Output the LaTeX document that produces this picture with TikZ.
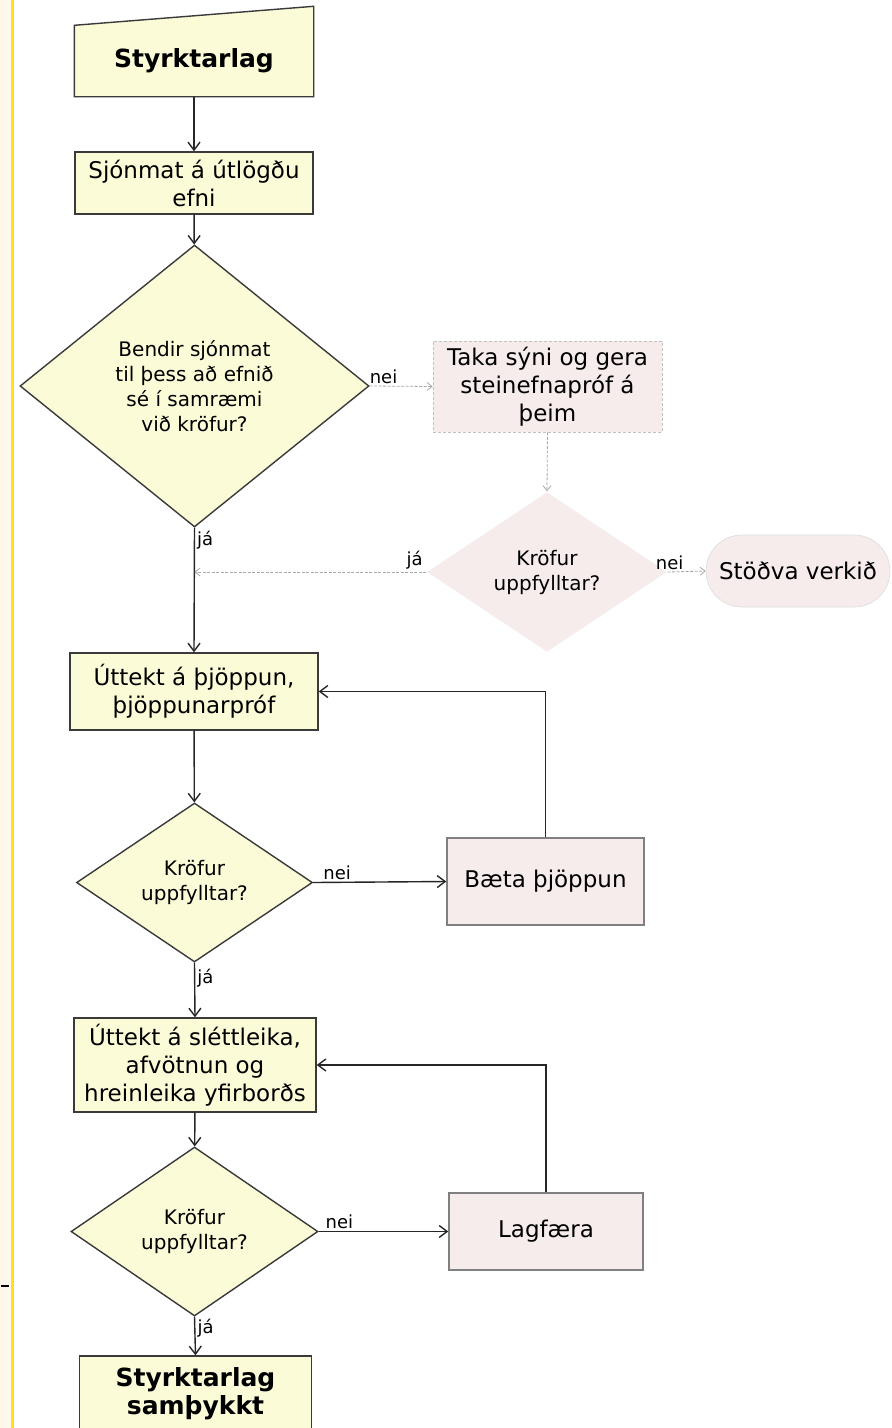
\documentclass[tikz,border=0pt]{standalone}
\usepackage{fontspec}
\setmainfont{DejaVu Sans}
\usetikzlibrary{shapes.geometric,arrows.meta,backgrounds}
\definecolor{gulur}{HTML}{FBFBD8}
\definecolor{bleikur}{HTML}{F6ECEC}
\definecolor{rammi}{HTML}{3A3A3A}
\definecolor{grarammi}{HTML}{808080}
\definecolor{ljosgrar}{HTML}{A8A8A8}
\definecolor{jadar}{HTML}{FDF8EA}
\definecolor{gullina}{HTML}{FFE11A}
\newcommand\nodefnt{\fontsize{23}{28}\selectfont}
\newcommand\decfnt{\fontsize{20}{25}\selectfont}
\newcommand\labfnt{\fontsize{18}{22}\selectfont}
\newcommand\headfnt{\fontsize{25}{28}\selectfont\bfseries}

\tikzset{
  ferli/.style={rectangle, draw=rammi, fill=gulur, line width=1.4pt, align=center, font=\nodefnt, inner sep=0pt},
  lagf/.style={ferli, draw=grarammi, fill=bleikur},
  spurning/.style={diamond, draw=rammi, fill=gulur, line width=1.4pt, align=center, font=\decfnt, inner sep=0pt},
  profun/.style={rectangle, draw=ljosgrar!70, dash pattern=on 3pt off 2pt, line width=0.6pt, fill=bleikur, align=center, font=\nodefnt, inner sep=0pt},
  pil/.style={draw=black!85, line width=1.4pt, -{Straight Barb[length=8pt,width=12pt]}},
  dauf/.style={draw=ljosgrar, line width=0.8pt, dash pattern=on 3pt off 1.5pt, -{Straight Barb[length=5pt,width=8pt]}},
  merki/.style={font=\labfnt, inner sep=2pt}
}

\begin{document}
\begin{tikzpicture}[x=1pt, y=-1pt]
        \clip (0,0) rectangle (892,1428);
        % jaðar vinstra megin
        \fill[jadar] (0,0) rectangle (11,1428);
        \fill[gullina] (11,0) rectangle (13.5,1428);
        \draw[black, line width=2pt] (1,1286) -- (9,1286);
        % aðalferli
        \node[ferli, draw=none, fill=none, minimum width=238pt, minimum height=70pt, font=\headfnt] (upphaf) at (194,61) {Styrktarlag};
        \node[ferli, minimum width=238pt, minimum height=62pt] (sjonmat) at (194,183) {Sjónmat á útlögðu\\efni};
        \node[spurning, minimum width=349pt, minimum height=282pt] (spurn1) at (194.5,386) {Bendir sjónmat\\til þess að efnið\\sé í samræmi\\við kröfur?};
        \node[ferli, minimum width=248pt, minimum height=77pt] (thjoppun) at (194,691.5) {Úttekt á þjöppun,\\þjöppunarpróf};
        \node[spurning, minimum width=236pt, minimum height=159pt] (spurn3) at (194.5,882.5) {Kröfur\\uppfylltar?};
        \node[ferli, minimum width=242pt, minimum height=94pt] (slettleiki) at (195,1065) {Úttekt á sléttleika,\\afvötnun og\\hreinleika yfirborðs};
        \node[spurning, minimum width=247pt, minimum height=169pt] (spurn4) at (194.5,1231.5) {Kröfur\\uppfylltar?};
        \node[ferli, minimum width=232pt, minimum height=76pt, font=\headfnt] (samthykkt) at (195.5,1394) {Styrktarlag\\samþykkt};
        % hliðarferli
        \node[profun, minimum width=229pt, minimum height=91pt] (syni) at (547.5,386.5) {Taka sýni og gera\\steinefnapróf á\\þeim};
        \node[spurning, draw=none, fill=bleikur, minimum width=240pt, minimum height=160pt] (spurn2) at (547,572) {Kröfur\\uppfylltar?};
        \node[profun, draw=ljosgrar!40, solid, rounded corners=36pt, minimum width=184pt, minimum height=72pt] (stodva) at (798,571) {Stöðva verkið};
        \node[lagf, minimum width=197pt, minimum height=87pt] (baeta) at (545.5,881.5) {Bæta þjöppun};
        \node[lagf, minimum width=194pt, minimum height=77pt] (lagfaera) at (546,1231.5) {Lagfæra};
        % skáhallt efra borð
        \begin{scope}[on background layer]
          \draw[rammi, fill=gulur, line width=1.4pt] (upphaf.south west) -- (upphaf.north west) -- ([yshift=19pt]upphaf.north east) -- (upphaf.south east) -- cycle;
        \end{scope}
        % örvar
        \draw[pil] (upphaf) -- (sjonmat);
        \draw[pil] (sjonmat) -- (spurn1);
        \draw[pil] (spurn1.south) -- node[merki, right, pos=0.1] (ja1) {já} (thjoppun.north);
        \draw[dauf] (spurn1.east) -- node[merki, above, pos=0.22] (nei1) {nei} (syni.west);
        \draw[dauf] (syni.south) -- (spurn2.north);
        \draw[dauf] (spurn2.east) -- node[merki, above, pos=0.05] (nei2) {nei} (stodva.west);
        \coordinate (inn) at (spurn1.south |- spurn2.west);
        \draw[dauf] (spurn2.west) -- node[merki, above, pos=0.05] (ja2) {já} (inn);
        \draw[pil] (thjoppun) -- (spurn3);
        \draw[pil] (spurn3.east) -- node[merki, above, pos=0.18] (nei3) {nei} (baeta.west);
        \draw[pil] (baeta.north) |- (thjoppun.east);
        \draw[pil] (spurn3.south) -- node[merki, right, pos=0.29] (ja3) {já} (slettleiki.north);
        \draw[pil] (slettleiki) -- (spurn4);
        \draw[pil] (spurn4.east) -- node[merki, above, pos=0.16] (nei4) {nei} (lagfaera.west);
        \draw[pil] (lagfaera.north) |- (slettleiki.east);
        \draw[pil] (spurn4.south) -- node[merki, right, pos=0.3] (ja4) {já} (samthykkt.north);
\end{tikzpicture}
\end{document}
